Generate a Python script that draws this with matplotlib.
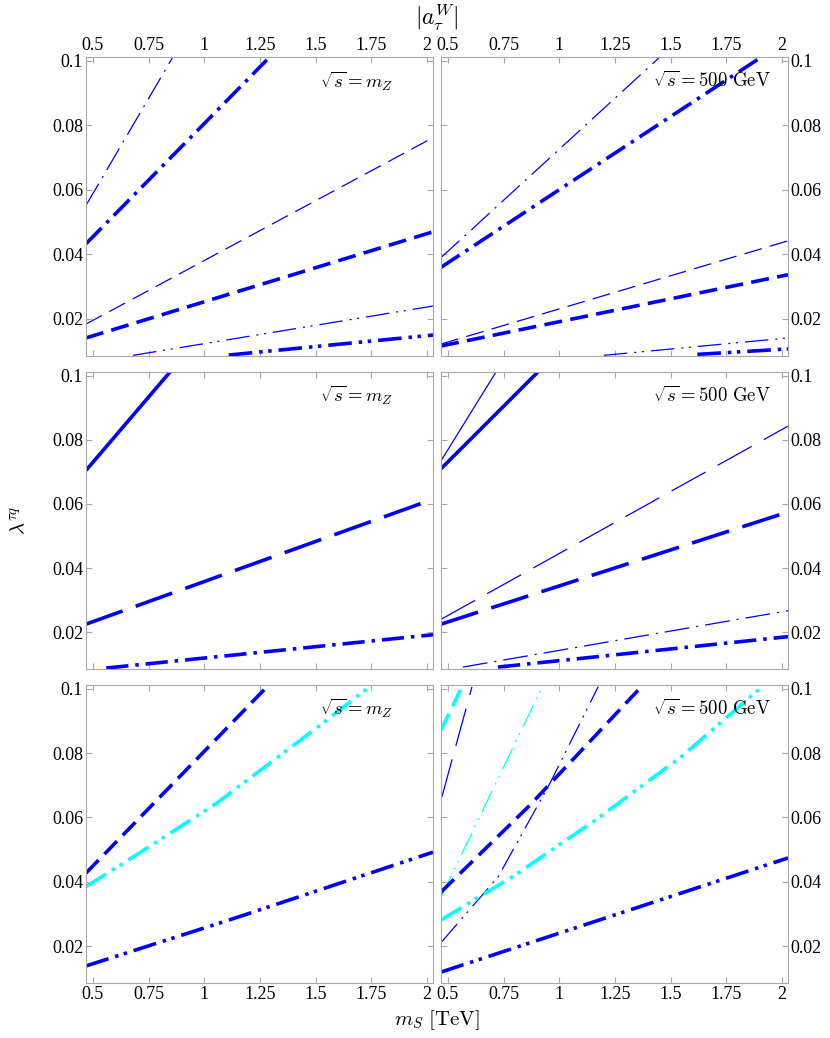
import matplotlib
matplotlib.use("Agg")
import matplotlib.pyplot as plt
from matplotlib.ticker import FuncFormatter

# Schrift & Grundeinstellungen
plt.rcParams['font.family'] = ['Liberation Serif', 'DejaVu Serif']
plt.rcParams['mathtext.fontset'] = 'cm'
plt.rcParams['lines.scale_dashes'] = False

BLUE = (0.0, 0.0, 1.0)
CYAN = (0.0, 1.0, 1.0)
SPINE = '#a8a8a8'

XLIM = (0.469, 2.027)
YLIM = (0.0085, 0.1012)

# --- Daten ---
# oben links, sqrt(s) = mZ
tl_dashdot_thin_x, tl_dashdot_thin_y = [0.469, 0.859], [0.0552, 0.1012]
tl_dashdot_thick_x, tl_dashdot_thick_y = [0.469, 1.281], [0.0433, 0.1003]
tl_dashed_thin_x, tl_dashed_thin_y = [0.469, 2.027], [0.0184, 0.0762]
tl_dashed_thick_x, tl_dashed_thick_y = [0.469, 2.027], [0.0141, 0.0470]
tl_dd_thin_x, tl_dd_thin_y = [0.68, 2.027], [0.0087, 0.0240]
tl_dd_thick_x, tl_dd_thick_y = [1.11, 2.027], [0.0088, 0.0150]

# oben rechts, sqrt(s) = 500 GeV
tr_dashdot_thin_x, tr_dashdot_thin_y = [0.469, 1.452], [0.0390, 0.1012]
tr_dashdot_thick_x, tr_dashdot_thick_y = [0.469, 1.923], [0.0360, 0.1019]
tr_dashed_thin_x, tr_dashed_thin_y = [0.469, 2.027], [0.0122, 0.0442]
tr_dashed_thick_x, tr_dashed_thick_y = [0.469, 2.027], [0.0116, 0.0337]
tr_dd_thin_x, tr_dd_thin_y = [1.20, 2.027], [0.0087, 0.0141]
tr_dd_thick_x, tr_dd_thick_y = [1.62, 2.027], [0.0090, 0.0107]

# Mitte links
ml_solid_thick_x, ml_solid_thick_y = [0.469, 0.846], [0.0705, 0.1012]
ml_longdash_thick_x, ml_longdash_thick_y = [0.469, 2.027], [0.0225, 0.0615]
ml_dashdot_thick_x, ml_dashdot_thick_y = [0.56, 2.027], [0.0088, 0.0192]

# Mitte rechts
mr_solid_thin_x, mr_solid_thin_y = [0.469, 0.716], [0.0735, 0.1012]
mr_solid_thick_x, mr_solid_thick_y = [0.469, 0.904], [0.0710, 0.1012]
mr_longdash_thin_x, mr_longdash_thin_y = [0.469, 2.027], [0.0240, 0.0843]
mr_longdash_thick_x, mr_longdash_thick_y = [0.469, 2.027], [0.0225, 0.0575]
mr_dashdot_thin_x, mr_dashdot_thin_y = [0.567, 2.027], [0.0091, 0.0267]
mr_dashdot_thick_x, mr_dashdot_thick_y = [0.725, 2.027], [0.0091, 0.0186]

# unten links
bl_dashed_x, bl_dashed_y = [0.469, 1.295], [0.0427, 0.1016]
bl_dd_cyan_x, bl_dd_cyan_y = [0.469, 0.651, 1.055, 1.534, 1.759], [0.0385, 0.0464, 0.0644, 0.0894, 0.1016]
bl_dd_blue_x, bl_dd_blue_y = [0.469, 1.147, 2.027], [0.0138, 0.0289, 0.0492]

# unten rechts
br_dashed_cyan_x, br_dashed_cyan_y = [0.469, 0.567], [0.0872, 0.1012]
br_dashed_thin_x, br_dashed_thin_y = [0.473, 0.608], [0.0664, 0.1006]
br_dd_cyan_thin_x, br_dd_cyan_thin_y = [0.469, 0.927], [0.0352, 0.1012]
br_dd_thin_x, br_dd_thin_y = [0.472, 0.726, 0.958, 1.175], [0.0213, 0.0416, 0.0706, 0.1007]
br_dashed_thick_x, br_dashed_thick_y = [0.469, 0.868, 1.376], [0.0368, 0.0638, 0.1012]
br_dd_cyan_thick_x, br_dd_cyan_thick_y = [0.469, 0.80, 1.169, 1.55, 1.914], [0.0281, 0.0420, 0.0595, 0.0790, 0.1009]
br_dd_thick_x, br_dd_thick_y = [0.469, 2.027], [0.0119, 0.0474]

xticks = [0.5, 0.75, 1, 1.25, 1.5, 1.75, 2]
yticks = [0.02, 0.04, 0.06, 0.08, 0.1]

# Linienstile (Strichmuster in pt)
THICK, THIN = 2.6, 0.9
DASHDOT = (0, (16, 5, 2.5, 5))
DASHDOT_T = (0, (18, 5, 1.5, 5))
DASHED = (0, (13, 6))
LONGDASH = (0, (28, 10))
DD = (0, (17, 5, 2.5, 4, 2.5, 5))
DD_T = (0, (17, 5, 1.5, 4, 1.5, 5))

panels = [
    [(tl_dashdot_thin_x, tl_dashdot_thin_y, BLUE, THIN, DASHDOT_T),
     (tl_dashdot_thick_x, tl_dashdot_thick_y, BLUE, THICK, DASHDOT),
     (tl_dashed_thin_x, tl_dashed_thin_y, BLUE, THIN, DASHED),
     (tl_dashed_thick_x, tl_dashed_thick_y, BLUE, THICK, DASHED),
     (tl_dd_thin_x, tl_dd_thin_y, BLUE, THIN, DD_T),
     (tl_dd_thick_x, tl_dd_thick_y, BLUE, THICK, DD)],
    [(tr_dashdot_thin_x, tr_dashdot_thin_y, BLUE, THIN, DASHDOT_T),
     (tr_dashdot_thick_x, tr_dashdot_thick_y, BLUE, THICK, DASHDOT),
     (tr_dashed_thin_x, tr_dashed_thin_y, BLUE, THIN, DASHED),
     (tr_dashed_thick_x, tr_dashed_thick_y, BLUE, THICK, DASHED),
     (tr_dd_thin_x, tr_dd_thin_y, BLUE, THIN, DD_T),
     (tr_dd_thick_x, tr_dd_thick_y, BLUE, THICK, DD)],
    [(ml_solid_thick_x, ml_solid_thick_y, BLUE, THICK, '-'),
     (ml_longdash_thick_x, ml_longdash_thick_y, BLUE, THICK, LONGDASH),
     (ml_dashdot_thick_x, ml_dashdot_thick_y, BLUE, THICK, DASHDOT)],
    [(mr_solid_thin_x, mr_solid_thin_y, BLUE, THIN, '-'),
     (mr_solid_thick_x, mr_solid_thick_y, BLUE, THICK, '-'),
     (mr_longdash_thin_x, mr_longdash_thin_y, BLUE, THIN, LONGDASH),
     (mr_longdash_thick_x, mr_longdash_thick_y, BLUE, THICK, LONGDASH),
     (mr_dashdot_thin_x, mr_dashdot_thin_y, BLUE, THIN, DASHDOT_T),
     (mr_dashdot_thick_x, mr_dashdot_thick_y, BLUE, THICK, DASHDOT)],
    [(bl_dashed_x, bl_dashed_y, BLUE, THICK, DASHED),
     (bl_dd_cyan_x, bl_dd_cyan_y, CYAN, THICK, DD),
     (bl_dd_blue_x, bl_dd_blue_y, BLUE, THICK, DD)],
    [(br_dashed_cyan_x, br_dashed_cyan_y, CYAN, THICK, DASHED),
     (br_dashed_thin_x, br_dashed_thin_y, BLUE, THIN, LONGDASH),
     (br_dd_cyan_thin_x, br_dd_cyan_thin_y, CYAN, THIN, DD_T),
     (br_dd_thin_x, br_dd_thin_y, BLUE, THIN, DD_T),
     (br_dashed_thick_x, br_dashed_thick_y, BLUE, THICK, DASHED),
     (br_dd_cyan_thick_x, br_dd_cyan_thick_y, CYAN, THICK, DD),
     (br_dd_thick_x, br_dd_thick_y, BLUE, THICK, DD)],
]
labels = [r'$\sqrt{s} = m_Z$', r'$\sqrt{s} = 500\ \mathrm{GeV}$'] * 3

fig = plt.figure(figsize=(8.3, 10.38), dpi=100)
W, H = 830, 1038
cols = [86, 441]
rows = [(57, 356), (372, 669), (685, 983)]
pw = 347

fmt = FuncFormatter(lambda v, p: f"{v:g}")

for i, curves in enumerate(panels):
    r, c = divmod(i, 2)
    top, bot = rows[r]
    ax = fig.add_axes([cols[c] / W, 1 - bot / H, pw / W, (bot - top) / H])
    for x, y, col, lw, ls in curves:
        ax.plot(x, y, color=col, lw=lw, linestyle=ls, dash_capstyle='butt',
                solid_capstyle='butt', dash_joinstyle='round')
    ax.set_xlim(XLIM)
    ax.set_ylim(YLIM)
    ax.set_xticks(xticks)
    ax.set_yticks(yticks)
    ax.xaxis.set_major_formatter(fmt)
    ax.yaxis.set_major_formatter(fmt)
    for s in ax.spines.values():
        s.set_color(SPINE)
        s.set_linewidth(0.8)
    ax.tick_params(direction='in', length=4, width=0.8, color=SPINE,
                   top=True, right=True, labelsize=13, pad=2,
                   labelbottom=(r == 2), labeltop=(r == 0),
                   labelleft=(c == 0), labelright=(c == 1))
    ax.text(0.78, 0.92, labels[i], transform=ax.transAxes, ha='center',
            va='center', fontsize=13.5)

fig.text(437 / W, 1 - 18 / H, r'$|a_\tau^W|$', ha='center', va='center', fontsize=17)
fig.text(437 / W, 1 - 1020 / H, r'$m_S\ [\mathrm{TeV}]$', ha='center', va='center', fontsize=15)
fig.text(20 / W, 1 - 520 / H, r'$\lambda^{\tau q}$', ha='center', va='center',
         fontsize=15, rotation=90)

fig.savefig('out.png', dpi=100)
